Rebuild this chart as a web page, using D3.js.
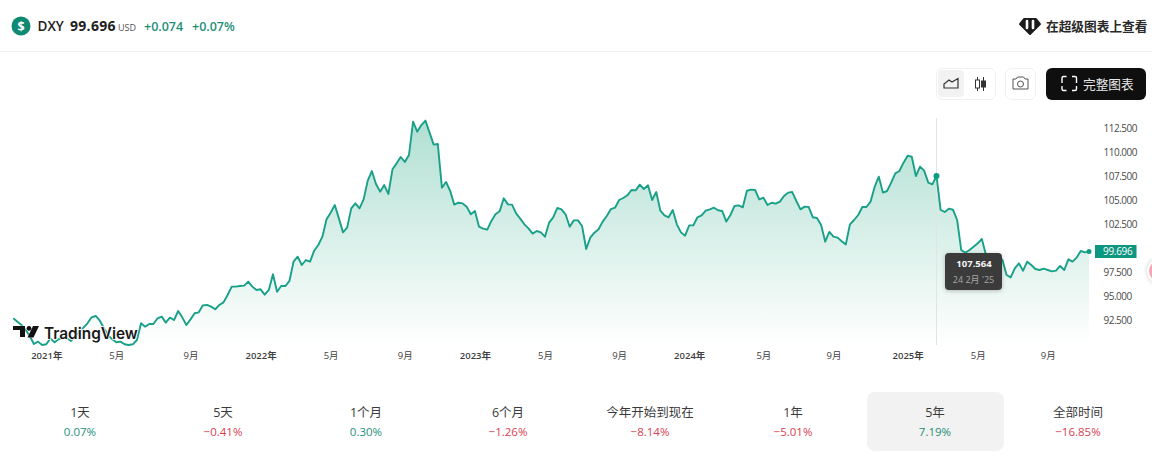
<!DOCTYPE html>
<html><head><meta charset="utf-8">
<script src="https://cdn.jsdelivr.net/npm/d3@7"></script>
<style>
html,body{margin:0;padding:0;background:#fff;overflow:hidden}
svg{display:block}
text{font-family:"Open Sans","Noto Sans CJK SC",sans-serif}
</style></head><body><svg id="c" width="1152" height="459"></svg>
<script>
const firstWeek = "2020-11-09";
const closes = [
92.73,92.38,92.03,91.51,90.89,90.05,90.30,89.95,90.02,90.64,90.23,90.54,90.75,90.64,90.37,90.82,91.34,91.76,92.21,92.83,
92.97,92.48,91.69,90.99,90.54,90.23,90.30,90.02,89.95,90.02,90.47,92.21,91.86,92.14,92.14,92.73,92.90,92.28,92.80,92.55,
93.49,92.83,92.03,92.62,93.25,93.35,94.08,94.12,93.94,93.67,94.12,94.39,95.16,96.03,96.03,96.09,96.13,96.55,96.03,95.68,
95.75,95.19,95.68,97.31,95.50,96.09,96.09,96.62,98.63,99.15,98.28,98.80,98.63,99.77,100.36,101.23,103.04,103.73,104.53,103.14,
101.68,102.17,104.18,104.71,104.18,105.12,107.07,108.07,106.72,105.92,106.61,105.68,108.25,108.87,109.53,109.01,109.74,113.21,112.17,112.86,
113.32,112.07,110.82,110.88,106.33,106.93,105.99,104.57,104.77,104.70,104.36,103.56,103.91,102.27,102.07,101.96,102.87,103.56,103.87,105.23,
104.60,104.57,103.66,103.11,102.52,102.10,101.55,101.82,101.68,101.23,102.69,103.25,104.22,104.08,103.56,102.27,102.93,102.93,102.34,99.95,
101.13,101.65,102.00,102.80,103.39,104.11,104.25,105.05,105.26,105.54,106.09,106.06,106.65,106.20,106.58,105.05,105.88,103.94,103.45,103.25,
104.01,102.52,101.68,101.34,102.41,102.41,103.25,103.45,103.94,104.08,104.25,103.98,103.91,102.80,103.49,104.43,104.49,104.29,106.02,106.13,
106.09,105.12,105.30,104.53,104.77,104.67,104.88,105.47,105.82,105.88,104.95,104.08,104.36,104.32,103.25,103.18,102.45,100.71,101.72,101.23,
101.13,100.75,100.43,102.52,102.97,103.49,104.32,104.32,104.88,106.44,107.48,105.82,105.99,106.86,107.83,108.07,108.94,109.67,109.56,107.55,
108.52,108.11,106.86,106.68,107.564,104.01,103.80,104.15,104.04,102.97,99.84,99.56,99.84,100.19,100.54,100.99,99.32,99.32,99.15,99.15,
98.80,97.24,96.99,97.93,98.45,97.69,98.63,98.28,97.86,97.76,97.90,97.76,97.62,97.69,98.18,97.76,98.87,98.63,99.05,99.74,
99.60,99.696];
const yTicks = [112.5,110,107.5,105,102.5,97.5,95,92.5];
const xTickDates = ["2021-01-04","2021-05-03","2021-09-06","2022-01-03","2022-05-02","2022-09-05","2023-01-02","2023-05-01","2023-09-04","2024-01-01","2024-05-06","2024-09-02","2025-01-06","2025-05-05","2025-09-01"];
const xTickLabels = ["2021年","5月","9月","2022年","5月","9月","2023年","5月","9月","2024年","5月","9月","2025年","5月","9月"];
const periodLabels = ["1天","5天","1个月","6个月","今年开始到现在","1年","5年","全部时间"];
const periodChanges = ["0.07%","−0.41%","0.30%","−1.26%","−8.14%","−5.01%","7.19%","−16.85%"];
const lastPrice = 99.696, hoverIndex = 224;

const svg = d3.select("#c");
const parse = d3.utcParse("%Y-%m-%d");
const start = parse(firstWeek);
const dates = closes.map((_, i) => d3.utcDay.offset(start, i * 7));
const x = d3.scaleUtc().domain([dates[0], dates[dates.length-1]]).range([13.3, 1089]);
const y = d3.scaleLinear().domain([92.5, 112.5]).range([320.5, 128.5]);
const plotBottom = 345;
const GREEN = "#18a088", TXT = "#3a3a3a";

const defs = svg.append("defs");
const g = defs.append("linearGradient").attr("id","fade")
  .attr("gradientUnits","userSpaceOnUse").attr("x1",0).attr("x2",0).attr("y1",y(113.3)).attr("y2",plotBottom);
g.append("stop").attr("offset",0).attr("stop-color","#a8dccd").attr("stop-opacity",.9);
g.append("stop").attr("offset",1).attr("stop-color","#a8dccd").attr("stop-opacity",0);

// header
svg.append("line").attr("x1",0).attr("x2",1152).attr("y1",51.5).attr("y2",51.5).attr("stroke","#f1f1f1");
svg.append("circle").attr("cx",21).attr("cy",26).attr("r",9.5).attr("fill","#0f8a72");
svg.append("text").attr("x",21).attr("y",30.5).attr("text-anchor","middle").attr("fill","#fff").attr("font-size",12.5).attr("font-weight",700).text("$");
const ht=(tx,xx,fs,fw,col)=>svg.append("text").attr("x",xx).attr("y",31).attr("font-size",fs).attr("font-weight",fw).attr("fill",col).text(tx);
ht("DXY",37.5,13.5,600,"#222");
ht("99.696",70,14,700,"#222").attr("letter-spacing",.3);
ht("USD",118,9,400,"#555");
ht("+0.074",144,12.5,600,"#1f8f78");
ht("+0.07%",192,12.5,600,"#1f8f78");
svg.append("path").attr("d","M1024 19h12l4 5-10 10-10-10z").attr("fill","#1c1c1c").attr("stroke","#1c1c1c").attr("stroke-linejoin","round").attr("stroke-width",2);
svg.append("path").attr("d","M1027 21v7M1033 21v7").attr("stroke","#fff").attr("stroke-width",2.6).attr("stroke-linecap","round");
svg.append("text").attr("x",1046).attr("y",31).attr("font-size",12.7).attr("font-weight",700).attr("fill","#2a2a2a").text("在超级图表上查看");

// toolbar
svg.append("rect").attr("x",936.5).attr("y",68.5).attr("width",59).attr("height",31).attr("rx",6).attr("fill","#fff").attr("stroke","#f0f0f0");
svg.append("rect").attr("x",938).attr("y",70).attr("width",26).attr("height",27).attr("rx",4).attr("fill","#f2f2f2");
svg.append("path").attr("d","M944 88v-4l5-4 3 2 6-3.5V88z").attr("fill","none").attr("stroke","#333").attr("stroke-width",1.2);
svg.append("path").attr("d","M977.5 77v14M983.5 77v14").attr("stroke","#333").attr("stroke-width",1);
svg.append("rect").attr("x",975.5).attr("y",80).attr("width",4).attr("height",8).attr("fill","#fff").attr("stroke","#333");
svg.append("rect").attr("x",981.5).attr("y",81).attr("width",4).attr("height",6).attr("fill","#333").attr("stroke","#333");
svg.append("rect").attr("x",1005.5).attr("y",68.5).attr("width",30).attr("height",31).attr("rx",6).attr("fill","#fff").attr("stroke","#f0f0f0");
svg.append("path").attr("d","M1013 79h3l1.5-2h6l1.5 2h3v10h-15z").attr("fill","none").attr("stroke","#555").attr("stroke-linejoin","round");
svg.append("circle").attr("cx",1020.5).attr("cy",84).attr("r",3).attr("fill","none").attr("stroke","#555");
svg.append("rect").attr("x",1046).attr("y",68).attr("width",100).attr("height",32).attr("rx",6).attr("fill","#0f0f0f");
svg.append("path").attr("d","M1062 83v-5q0-1.500 1.500-1.500h3M1072 76.500h3q1.500 0 1.500 1.500v5M1076.500 86v3q0 1.500-1.500 1.500h-3M1066.500 90.500h-3q-1.500 0-1.500-1.500v-3").attr("fill","none").attr("stroke","#fff").attr("stroke-width",1.4);
svg.append("text").attr("x",1083).attr("y",89).attr("font-size",12.7).attr("fill","#e8e8e8").text("完整图表");

// chart
const area = d3.area().x((_,i)=>x(dates[i])).y0(plotBottom).y1(d=>y(d));
const line = d3.line().x((_,i)=>x(dates[i])).y(d=>y(d));
svg.append("path").datum(closes).attr("d",area).attr("fill","url(#fade)");
svg.append("line").attr("x1",x(dates[hoverIndex])).attr("x2",x(dates[hoverIndex])).attr("y1",118).attr("y2",plotBottom).attr("stroke","#e3e3e3");
svg.append("path").datum(closes).attr("d",line).attr("fill","none").attr("stroke",GREEN).attr("stroke-width",1.9).attr("stroke-linejoin","round");
svg.append("circle").attr("cx",x(dates[hoverIndex])).attr("cy",y(closes[hoverIndex])).attr("r",3).attr("fill","#0d9d84");
svg.append("circle").attr("cx",x(dates[dates.length-1])).attr("cy",y(lastPrice)).attr("r",2.5).attr("fill","#0d9d84");

// axes
const yAxis = svg.append("g").attr("transform","translate(1103.5,-0.5)")
  .call(d3.axisRight(y).tickValues(yTicks).tickSize(0).tickPadding(0).tickFormat(d3.format(".3f")));
yAxis.select(".domain").remove();
yAxis.selectAll("text").attr("font-size",10).attr("fill","#4a4a4a").attr("letter-spacing",-.5).style("font-family",'"Open Sans",sans-serif');
const xAxis = svg.append("g").attr("transform","translate(0,352)")
  .call(d3.axisBottom(x).tickValues(xTickDates.map(parse)).tickSize(0).tickPadding(0).tickFormat((d,i)=>xTickLabels[i]));
xAxis.select(".domain").remove();
xAxis.selectAll("text").attr("font-size",9.5).attr("fill","#3f3f3f").attr("font-weight",d=>d.getUTCMonth()===0?600:400).style("font-family",'"Open Sans","Noto Sans CJK SC",sans-serif');

// price tag
svg.append("rect").attr("x",1095).attr("y",245).attr("width",41.5).attr("height",13).attr("fill","#0d9680");
svg.append("text").attr("x",1103).attr("y",255).attr("font-size",10).attr("fill","#fff").attr("letter-spacing",-.3).text(d3.format(".3f")(lastPrice));

// logo
const logo = svg.append("g");
logo.append("text").attr("x",44).attr("y",338.500).attr("font-size",15.4).attr("font-weight",600).attr("fill","#1a1a1a").style("font-family","Inter,'Open Sans',sans-serif").attr("paint-order","stroke").attr("stroke","#fff").attr("stroke-width",1.5).text("TradingView");
logo.append("path").attr("d","M13 326h12v11h-5v-7h-7zM29 326a2.400 2.400 0 1 1-.01 0zM33 326h6l-5.500 11.500h-6z").attr("fill","#111").attr("stroke","#fff").attr("stroke-width",.4).attr("paint-order","stroke");

// tooltip
svg.append("rect").attr("x",945).attr("y",253).attr("width",57).attr("height",37).attr("rx",4).attr("fill","#3b3b3b").style("filter","drop-shadow(0 1px 2px rgba(0,0,0,.25))");
svg.append("text").attr("x",974).attr("y",267).attr("text-anchor","middle").attr("font-size",9.5).attr("font-weight",700).attr("fill","#f5f5f5").text(d3.format(".3f")(closes[hoverIndex]));
svg.append("text").attr("x",973.500).attr("y",283).attr("text-anchor","middle").attr("font-size",9).attr("fill","#a8a8a8").text("24 2月 '25");

// right-edge badge
svg.append("circle").attr("cx",1160).attr("cy",271).attr("r",13).attr("fill","#fff").style("filter","drop-shadow(0 0 2px rgba(0,0,0,.2))");
svg.append("circle").attr("cx",1160).attr("cy",271).attr("r",11).attr("fill","#f4a6b5");

// period row
const colX = [80,223,366,508,650,793,935,1078];
svg.append("rect").attr("x",867).attr("y",392).attr("width",137).attr("height",59).attr("rx",8).attr("fill","#f2f2f2");
svg.append("g").selectAll("text").data(periodLabels).join("text").attr("x",(_,i)=>colX[i]).attr("y",417)
  .attr("text-anchor","middle").attr("font-size",12.5).attr("fill",TXT).text(d=>d);
svg.append("g").selectAll("text").data(periodChanges).join("text").attr("x",(_,i)=>colX[i]).attr("y",436)
  .attr("text-anchor","middle").attr("font-size",11.5).attr("fill",d=>d[0]==="−"?"#d8404f":"#1f8f78").text(d=>d);
</script></body></html>
